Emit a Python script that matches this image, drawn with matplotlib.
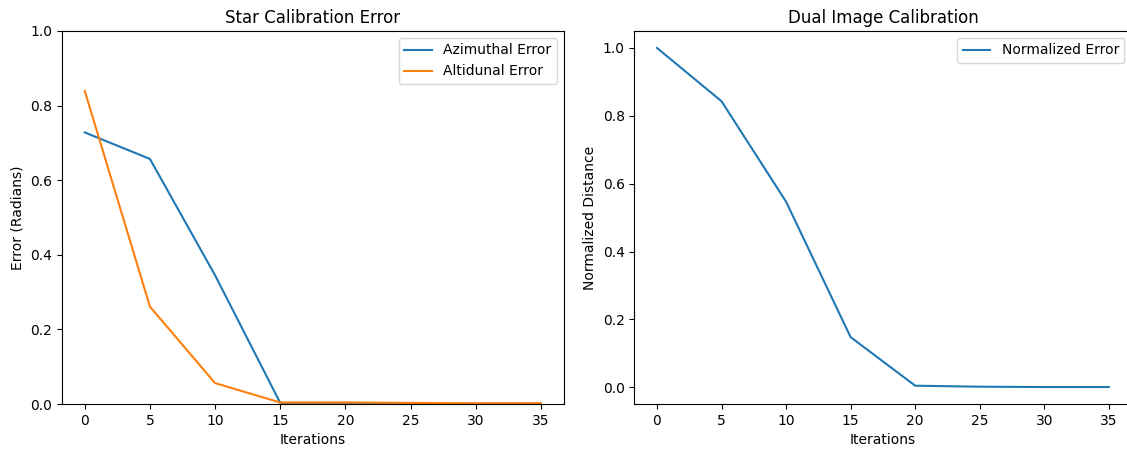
import numpy as np
import matplotlib.pyplot as plt

# iterations sampled every 5 steps
iterations = [0, 5, 10, 15, 20, 25, 30, 35]
azimuthal_error = [0.728, 0.657, 0.345, 0.003, 0.003, 0.002, 0.001, 0.001]
altidunal_error = [0.839, 0.261, 0.056, 0.004, 0.004, 0.003, 0.002, 0.002]
normalized_error = [1.0, 0.843, 0.547, 0.148, 0.005, 0.002, 0.001, 0.001]

W, H = 1127, 449
fig = plt.figure(figsize=(W / 100, H / 100), dpi=100)

# axes placed in pixels; right panel runs slightly past the image edge like the reference
ax1 = fig.add_axes([62 / W, 45 / H, 501.6 / W, 373 / H])
ax2 = fig.add_axes([634.4 / W, 45 / H, 497 / W, 373 / H])

ax1.plot(iterations, azimuthal_error, label='Azimuthal Error')
ax1.plot(iterations, altidunal_error, label='Altidunal Error')
ax1.set_ylim(0, 1)
ax1.set_title('Star Calibration Error')
ax1.set_xlabel('Iterations')
ax1.set_ylabel('Error (Radians)')
ax1.legend(loc='upper right')

ax2.plot(iterations, normalized_error, label='Normalized Error')
ax2.set_title('Dual Image Calibration')
ax2.set_xlabel('Iterations')
ax2.set_ylabel('Normalized Distance')
ax2.legend(loc='upper right')

plt.savefig('out.png', dpi=100)
plt.close()
